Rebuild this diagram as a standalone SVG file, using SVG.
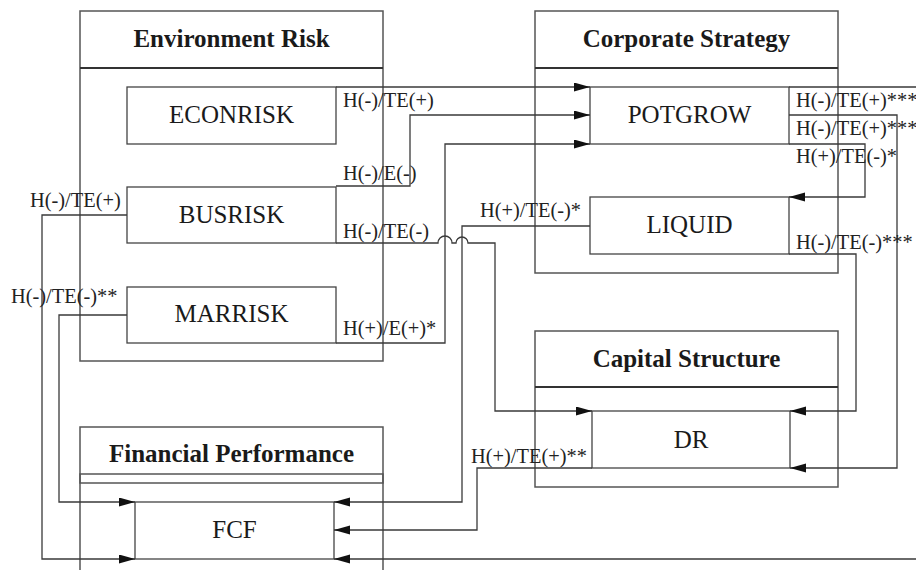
<svg xmlns="http://www.w3.org/2000/svg" width="916" height="570" viewBox="0 0 916 570">
<style>
.grp{fill:none;stroke:#555;stroke-width:1.5}
.div{stroke:#333;stroke-width:2}
.node{fill:none;stroke:#444;stroke-width:1.3}
text{font-family:'Liberation Serif','Times New Roman','DejaVu Serif',serif}
.hd{font-weight:bold;font-size:25px;fill:#1a1a1a;text-anchor:middle}
.nl{font-size:25px;fill:#1a1a1a;text-anchor:middle}
.el{font-size:20.4px;fill:#222}
.con{fill:none;stroke:#3a3a3a;stroke-width:1.3}
</style>
<defs>
<marker id="arr" markerUnits="userSpaceOnUse" markerWidth="16" markerHeight="10" refX="16" refY="4.5" orient="auto">
<path d="M0,0 L16,4.5 L0,9 z" fill="#111"/>
</marker>
</defs>
<rect x="0" y="0" width="916" height="570" fill="#fff"/>
<g id="env-risk">
<rect class="grp" x="80" y="11" width="303" height="350"/>
<line class="div" x1="80" y1="68" x2="383" y2="68"/>
<text class="hd" x="231.5" y="47" font-family="Liberation Serif, serif">Environment Risk</text>
</g>
<g id="corp-strategy">
<rect class="grp" x="535" y="11" width="303" height="262"/>
<line class="div" x1="535" y1="68" x2="838" y2="68"/>
<text class="hd" x="686.5" y="47" font-family="Liberation Serif, serif">Corporate Strategy</text>
</g>
<g id="cap-structure">
<rect class="grp" x="535" y="331" width="303" height="156"/>
<line class="div" x1="535" y1="387" x2="838" y2="387"/>
<text class="hd" x="686.5" y="367" font-family="Liberation Serif, serif">Capital Structure</text>
</g>
<g id="fin-performance">
<path class="grp" d="M80,570 V427 H383 V570"/>
<rect class="grp" x="80" y="474" width="303" height="9"/>
<text class="hd" x="231.5" y="462" font-family="Liberation Serif, serif">Financial Performance</text>
</g>
<g id="econrisk"><rect class="node" x="127" y="87" width="209" height="57"/><text class="nl" x="231.5" y="123" font-family="Liberation Serif, serif">ECONRISK</text></g>
<g id="busrisk"><rect class="node" x="127" y="187" width="209" height="56"/><text class="nl" x="231.5" y="223" font-family="Liberation Serif, serif">BUSRISK</text></g>
<g id="marrisk"><rect class="node" x="127" y="287" width="209" height="56"/><text class="nl" x="231.5" y="322" font-family="Liberation Serif, serif">MARRISK</text></g>
<g id="potgrow"><rect class="node" x="590" y="87" width="199" height="57"/><text class="nl" x="689.5" y="123" font-family="Liberation Serif, serif">POTGROW</text></g>
<g id="liquid"><rect class="node" x="590" y="197" width="199" height="57"/><text class="nl" x="689.5" y="233" font-family="Liberation Serif, serif">LIQUID</text></g>
<g id="dr"><rect class="node" x="592" y="411" width="198" height="57"/><text class="nl" x="691" y="448" font-family="Liberation Serif, serif">DR</text></g>
<g id="fcf"><rect class="node" x="135" y="502" width="199" height="57"/><text class="nl" x="234.5" y="538" font-family="Liberation Serif, serif">FCF</text></g>
<g id="connectors">
<path class="con" d="M336,87 H590" marker-end="url(#arr)"/>
<path class="con" d="M336,186 H410 V115 H590" marker-end="url(#arr)"/>
<path class="con" d="M336,343 H445 V144 H590" marker-end="url(#arr)"/>
<path class="con" d="M336,243 H438 A7,7 0 0 1 452,243 H456 A6,6 0 0 1 468,243 H495 V411 H592" marker-end="url(#arr)"/>
<path class="con" d="M590,226 H462 V502 H334" marker-end="url(#arr)"/>
<path class="con" d="M592,468 H477 V530 H334" marker-end="url(#arr)"/>
<path class="con" d="M127,215 H42 V559 H135" marker-end="url(#arr)"/>
<path class="con" d="M127,315 H59 V502 H135" marker-end="url(#arr)"/>
<path class="con" d="M789,87 H918 V559 H334" marker-end="url(#arr)"/>
<path class="con" d="M789,115 H897 V468 H790" marker-end="url(#arr)"/>
<path class="con" d="M789,144 H865 V197 H789" marker-end="url(#arr)"/>
<path class="con" d="M789,254 H856 V411 H790" marker-end="url(#arr)"/>
<g font-family="Liberation Serif, serif">
<text class="el" x="343" y="107">H(-)/TE(+)</text>
<text class="el" x="343" y="180">H(-)/E(-)</text>
<text class="el" x="343" y="238">H(-)/TE(-)</text>
<text class="el" x="343" y="335">H(+)/E(+)*</text>
<text class="el" x="30" y="207">H(-)/TE(+)</text>
<text class="el" x="11" y="303">H(-)/TE(-)**</text>
<text class="el" x="480" y="217">H(+)/TE(-)*</text>
<text class="el" x="471" y="463">H(+)/TE(+)**</text>
<text class="el" x="796" y="107">H(-)/TE(+)***</text>
<text class="el" x="796" y="135">H(-)/TE(+)***</text>
<text class="el" x="796" y="163">H(+)/TE(-)*</text>
<text class="el" x="796" y="249">H(-)/TE(-)***</text>
</g>
</g>
</svg>
